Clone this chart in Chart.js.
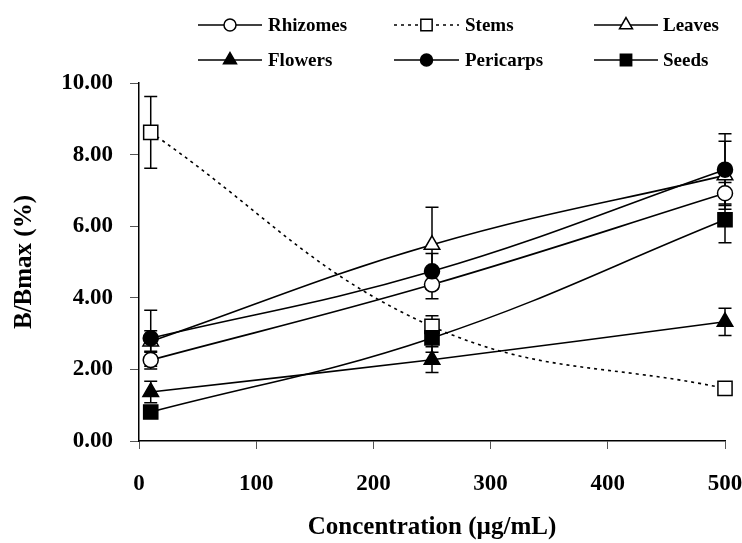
<!DOCTYPE html>
<html>
<head>
<meta charset="utf-8">
<script src="https://cdn.jsdelivr.net/npm/chart.js@4/dist/chart.umd.min.js"></script>
<style>
html,body{margin:0;padding:0;background:#fff;}
#wrap{width:742px;height:543px;position:relative;}
</style>
</head>
<body>
<div id="wrap"><canvas id="c" width="742" height="543"></canvas></div>
<script>
// ---- data ----
const concentrations = [10, 250, 500];
const seriesNames = ["Rhizomes", "Stems", "Leaves", "Flowers", "Pericarps", "Seeds"];
const rhizomes  = [2.26, 4.37, 6.92];
const stems     = [8.62, 3.20, 1.47];
const leaves    = [2.78, 5.48, 7.42];
const flowers   = [1.37, 2.27, 3.33];
const pericarps = [2.87, 4.74, 7.58];
const seeds     = [0.81, 2.88, 6.18];
const rhizomesErr  = [0.25, 0.40, 0.30];
const stemsErr     = [1.00, 0.30, 0.10];
const leavesErr    = [0.30, 1.05, 0.95];
const flowersErr   = [0.30, 0.36, 0.38];
const pericarpsErr = [0.78, 0.50, 1.00];
const seedsErr     = [0.15, 0.40, 0.64];
const yTicks = [0, 2, 4, 6, 8, 10];
const xTicks = [0, 100, 200, 300, 400, 500];

const values = [rhizomes, stems, leaves, flowers, pericarps, seeds];
const errors = [rhizomesErr, stemsErr, leavesErr, flowersErr, pericarpsErr, seedsErr];
const styles = [
  {pointStyle:'circle',   radius:7.5, fill:'#fff', dash:[]},
  {pointStyle:'rect',     radius:10,  fill:'#fff', dash:[3,4]},
  {pointStyle:'triangle', radius:9,   fill:'#fff', dash:[]},
  {pointStyle:'triangle', radius:9,   fill:'#000', dash:[]},
  {pointStyle:'circle',   radius:7.5, fill:'#000', dash:[]},
  {pointStyle:'rect',     radius:10,  fill:'#000', dash:[]}
];

const FONT = "'Liberation Serif', 'Times New Roman', serif";

const datasets = seriesNames.map((name, i) => ({
  label: name,
  data: concentrations.map((x, j) => ({x: x, y: values[i][j]})),
  errors: errors[i],
  borderColor: '#000',
  borderWidth: 1.6,
  borderDash: styles[i].dash,
  pointStyle: styles[i].pointStyle,
  pointRadius: styles[i].radius,
  pointHoverRadius: styles[i].radius,
  pointBackgroundColor: styles[i].fill,
  pointBorderColor: '#000',
  pointBorderWidth: 1.5,
  fill: false,
  clip: false,
  tension: 0.4,
  order: 5 - i
}));

function drawMarker(ctx, style, r, fill, x, y) {
  ctx.save();
  ctx.fillStyle = fill;
  ctx.strokeStyle = '#000';
  ctx.lineWidth = 1.5;
  ctx.setLineDash([]);
  ctx.beginPath();
  if (style === 'circle') {
    ctx.arc(x, y, r, 0, Math.PI * 2);
  } else if (style === 'rect') {
    const s = r * Math.SQRT1_2;
    ctx.rect(x - s, y - s, 2 * s, 2 * s);
  } else {
    ctx.moveTo(x, y - r);
    ctx.lineTo(x + Math.sin(2*Math.PI/3) * r, y - Math.cos(2*Math.PI/3) * r);
    ctx.lineTo(x + Math.sin(4*Math.PI/3) * r, y - Math.cos(4*Math.PI/3) * r);
    ctx.closePath();
  }
  ctx.fill();
  ctx.stroke();
  ctx.restore();
}

const errorBarPlugin = {
  id: 'errorBars',
  beforeDatasetsDraw(chart) {
    const ctx = chart.ctx;
    const xs = chart.scales.x, ys = chart.scales.y;
    ctx.save();
    ctx.strokeStyle = '#000';
    ctx.lineWidth = 1.5;
    ctx.setLineDash([]);
    chart.data.datasets.forEach((ds) => {
      ds.data.forEach((p, j) => {
        const e = ds.errors[j];
        const x = xs.getPixelForValue(p.x);
        const yt = ys.getPixelForValue(p.y + e);
        const yb = ys.getPixelForValue(p.y - e);
        ctx.beginPath();
        ctx.moveTo(x, yt); ctx.lineTo(x, yb);
        ctx.moveTo(x - 6.5, yt); ctx.lineTo(x + 6.5, yt);
        ctx.moveTo(x - 6.5, yb); ctx.lineTo(x + 6.5, yb);
        ctx.stroke();
      });
    });
    ctx.restore();
  }
};

const legendPlugin = {
  id: 'customLegend',
  afterDraw(chart) {
    const ctx = chart.ctx;
    const colLineStart = [198, 394, 594];
    const colLineEnd = [262, 459, 658];
    const colText = [268, 465, 663];
    const rowY = [25, 60];
    ctx.save();
    chart.data.datasets.forEach((ds, i) => {
      const col = i % 3, row = Math.floor(i / 3);
      const y = rowY[row];
      const st = styles[i];
      ctx.strokeStyle = '#000';
      ctx.lineWidth = 1.6;
      ctx.setLineDash(st.dash);
      ctx.beginPath();
      ctx.moveTo(colLineStart[col], y);
      ctx.lineTo(colLineEnd[col], y);
      ctx.stroke();
      const mx = (colLineStart[col] + colLineEnd[col]) / 2;
      const mr = st.pointStyle === 'rect' ? 8 : (st.pointStyle === 'triangle' ? 7.5 : 6);
      drawMarker(ctx, st.pointStyle, mr, st.fill, mx, y);
      ctx.setLineDash([]);
      ctx.fillStyle = '#000';
      ctx.font = "bold 19px " + FONT;
      ctx.textBaseline = 'middle';
      ctx.textAlign = 'left';
      ctx.fillText(ds.label, colText[col], y + 1);
    });
    ctx.restore();
  }
};

new Chart(document.getElementById('c'), {
  type: 'line',
  data: { datasets: datasets },
  plugins: [errorBarPlugin, legendPlugin],
  options: {
    responsive: false,
    animation: false,
    layout: { padding: { top: 83, right: 17, left: 0, bottom: 0 } },
    plugins: { legend: { display: false }, tooltip: { enabled: false } },
    scales: {
      x: {
        type: 'linear',
        min: 0, max: 500,
        afterBuildTicks: (s) => { s.ticks = xTicks.map(v => ({value: v})); },
        afterFit: (s) => { s.height = 102; s.paddingLeft = 0; s.paddingRight = 0; },
        grid: { display: true, drawOnChartArea: false, drawTicks: true, tickLength: 8, color: '#555', tickWidth: 1 },
        border: { display: true, color: '#000', width: 1.5 },
        ticks: { color: '#000', padding: 21, font: { family: FONT, size: 23, weight: 'bold' }, maxRotation: 0 },
        title: { display: true, text: 'Concentration (µg/mL)', color: '#000', font: { family: FONT, size: 25, weight: 'bold' }, padding: { top: 2, bottom: 0 } }
      },
      y: {
        type: 'linear',
        min: 0, max: 10,
        afterBuildTicks: (s) => { s.ticks = yTicks.map(v => ({value: v})); },
        afterFit: (s) => { s.width = 139; s.paddingTop = 0; s.paddingBottom = 0; },
        grid: { display: true, drawOnChartArea: false, drawTicks: true, tickLength: 9, color: '#555', tickWidth: 1 },
        border: { display: true, color: '#000', width: 1.5 },
        ticks: { color: '#000', padding: 17, font: { family: FONT, size: 23, weight: 'bold' }, callback: (v) => Number(v).toFixed(2) },
        title: { display: true, text: 'B/Bmax (%)', color: '#000', font: { family: FONT, size: 25, weight: 'bold' }, padding: { top: 10, bottom: 5 } }
      }
    }
  }
});
</script>
</body>
</html>
